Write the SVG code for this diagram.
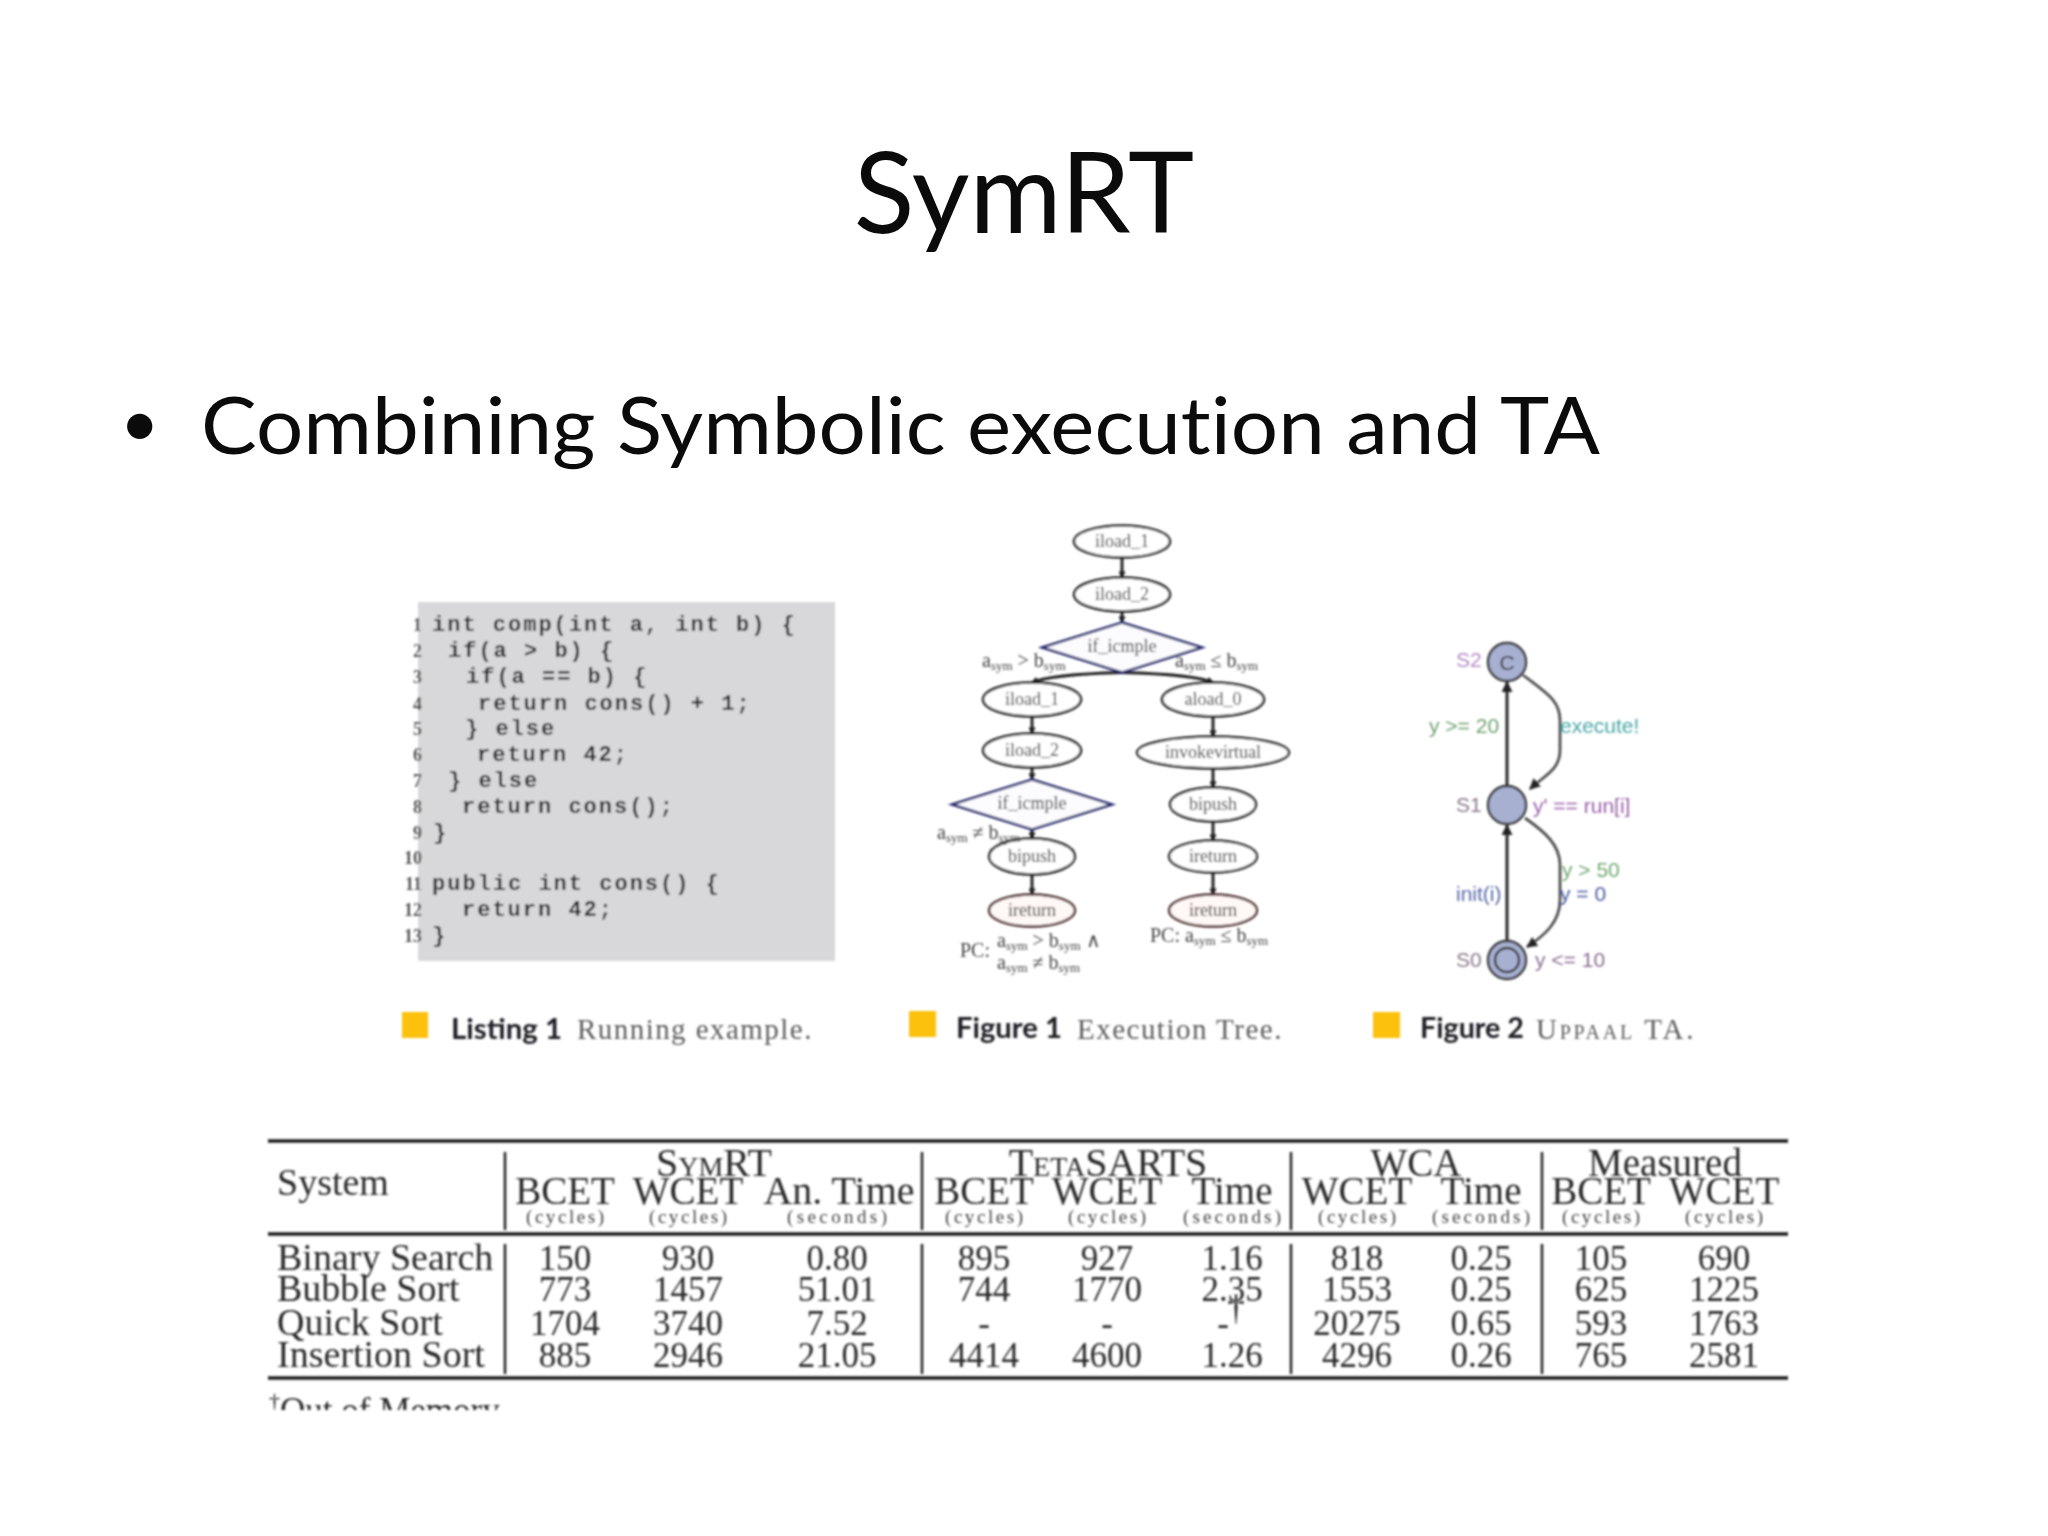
<svg xmlns="http://www.w3.org/2000/svg" width="2048" height="1536" viewBox="0 0 2048 1536">
<defs>
<style>
.head{font-family:Lato,"Open Sans",sans-serif;fill:#0b0b0b;font-variant-ligatures:none}
.code{font-family:"Liberation Mono",monospace;font-weight:bold;font-size:22px;letter-spacing:2px;fill:#2a2a2a;white-space:pre}
.num{font-family:"Liberation Serif",serif;font-size:18px;font-weight:bold;fill:#555;text-anchor:end}
.capb{font-family:Lato,"Open Sans",sans-serif;font-weight:bold;font-size:28px;fill:#1c1c24}
.capr{font-family:"Liberation Serif",serif;font-size:29px;fill:#5c5c5c;letter-spacing:.6px}
.sw{fill:#fcc10e}
.nt{font-family:"Liberation Serif",serif;font-size:18px;fill:#333;text-anchor:middle}
.lab{font-family:"Liberation Serif",serif;font-size:20px;fill:#444}
.sub{font-size:13px}
.el{fill:#fff;stroke:#222;stroke-width:2.5}
.red{fill:#fff8f6;stroke:#4a2626;stroke-width:2.5}
.dia{fill:#fcfcff;stroke:#26266e;stroke-width:2.5}
.edge{fill:none;stroke:#1a1a1a;stroke-width:2.8}
.soft{fill:none;stroke:#4f4f4f;stroke-width:2.8}
.loc{fill:#a8b0d2;stroke:#333;stroke-width:2.4}
.ta{font-family:"Liberation Sans",sans-serif;font-size:21px}
.t{font-family:"Liberation Serif",serif;font-size:35px;fill:#2c2c2c}
.r{font-size:38px}
.h{font-size:39px}
.g{font-size:40px}
.c{text-anchor:middle}
.u{font-family:"Liberation Serif",serif;font-size:19px;fill:#444;text-anchor:middle}
.sc{font-variant:small-caps}
.rule{stroke:#1c1c1c;stroke-width:3.4}
.vr{stroke:#1c1c1c;stroke-width:2.4}
</style>
<marker id="a" viewBox="0 0 8 8" refX="7" refY="4" markerWidth="7" markerHeight="7" markerUnits="userSpaceOnUse" orient="auto"><path d="M0 0L8 4L0 8z" fill="#1a1a1a"/></marker>
<marker id="b" viewBox="0 0 10 10" refX="9" refY="5" markerWidth="11" markerHeight="11" markerUnits="userSpaceOnUse" orient="auto"><path d="M0 0L10 5L0 10z" fill="#222"/></marker>
<filter id="blur" x="-5%" y="-5%" width="110%" height="110%"><feGaussianBlur stdDeviation="0.8"/></filter>
<clipPath id="foot"><rect x="260" y="1385" width="260" height="25"/></clipPath>
</defs>
<rect width="2048" height="1536" fill="#fff"/>

<text class="head" x="1024" y="233" font-size="112" text-anchor="middle">SymRT</text>
<text class="head" x="120" y="447" font-size="68" font-family="Liberation Sans">•</text>
<text class="head" x="201" y="454" font-size="80" textLength="1399" lengthAdjust="spacingAndGlyphs">Combining Symbolic execution and TA</text>

<g id="listing" filter="url(#blur)">
<rect x="418" y="602" width="417" height="359" fill="#d8d8da"/>
<text class="num" x="422" y="631">1</text><text class="num" x="422" y="657">2</text><text class="num" x="422" y="683">3</text><text class="num" x="422" y="710">4</text><text class="num" x="422" y="735">5</text><text class="num" x="422" y="761">6</text><text class="num" x="422" y="787">7</text><text class="num" x="422" y="813">8</text><text class="num" x="422" y="839">9</text><text class="num" x="422" y="864">10</text><text class="num" x="422" y="890">11</text><text class="num" x="422" y="916">12</text><text class="num" x="422" y="942">13</text>
<text class="code" x="432" y="631">int comp(int a, int b) {</text>
<text class="code" x="448" y="657">if(a &gt; b) {</text>
<text class="code" x="466" y="683">if(a == b) {</text>
<text class="code" x="478" y="710">return cons() + 1;</text>
<text class="code" x="465" y="735">} else</text>
<text class="code" x="477" y="761">return 42;</text>
<text class="code" x="448" y="787">} else</text>
<text class="code" x="462" y="813">return cons();</text>
<text class="code" x="433" y="839">}</text>
<text class="code" x="432" y="890">public int cons() {</text>
<text class="code" x="462" y="916">return 42;</text>
<text class="code" x="432" y="942">}</text>
<rect class="sw" x="402" y="1012" width="26" height="26"/>
<text class="capb" x="451" y="1039" textLength="111" lengthAdjust="spacingAndGlyphs">Listing 1</text>
<text class="capr" x="577" y="1039" textLength="235">Running example.</text>
</g>

<g filter="url(#blur)">
<g transform="translate(0 1.5)">
<g id="tree-edges">
<path class="edge" marker-end="url(#a)" d="M1122 556V576"/>
<path class="edge" marker-end="url(#a)" d="M1122 610V621"/>
<path class="edge" marker-end="url(#a)" d="M1122 671Q1050 673 1032 681"/>
<path class="edge" marker-end="url(#a)" d="M1122 671Q1195 673 1213 681"/>
<path class="edge" marker-end="url(#a)" d="M1032 715V732"/>
<path class="edge" marker-end="url(#a)" d="M1032 766V778"/>
<path class="edge" marker-end="url(#a)" d="M1032 828V837"/>
<path class="edge" marker-end="url(#a)" d="M1032 873V893"/>
<path class="edge" marker-end="url(#a)" d="M1213 715V735"/>
<path class="edge" marker-end="url(#a)" d="M1213 767V786"/>
<path class="edge" marker-end="url(#a)" d="M1213 820V839"/>
<path class="edge" marker-end="url(#a)" d="M1213 871V893"/>
</g>
<g id="t1"><ellipse class="el" cx="1122" cy="540" rx="48" ry="16"/><text class="nt" x="1122" y="545">iload_1</text></g>
<g id="t2"><ellipse class="el" cx="1122" cy="593" rx="48" ry="17"/><text class="nt" x="1122" y="598">iload_2</text></g>
<g id="t3"><path class="dia" d="M1122 621L1202 646L1122 671L1042 646z"/><text class="nt" x="1122" y="650">if_icmple</text></g>
<g id="t4"><ellipse class="el" cx="1032" cy="698" rx="49" ry="17"/><text class="nt" x="1032" y="703">iload_1</text></g>
<g id="t5"><ellipse class="el" cx="1032" cy="749" rx="49" ry="17"/><text class="nt" x="1032" y="754">iload_2</text></g>
<g id="t6"><path class="dia" d="M1032 778L1112 803L1032 828L952 803z"/><text class="nt" x="1032" y="807">if_icmple</text></g>
<g id="t7"><ellipse class="el" cx="1032" cy="855" rx="43" ry="18"/><text class="nt" x="1032" y="860">bipush</text></g>
<g id="t8"><ellipse class="red" cx="1032" cy="909" rx="43" ry="16"/><text class="nt" x="1032" y="914">ireturn</text></g>
<g id="t9"><ellipse class="el" cx="1213" cy="698" rx="51" ry="17"/><text class="nt" x="1213" y="703">aload_0</text></g>
<g id="t10"><ellipse class="el" cx="1213" cy="751" rx="76" ry="16"/><text class="nt" x="1213" y="756">invokevirtual</text></g>
<g id="t11"><ellipse class="el" cx="1213" cy="803" rx="43" ry="17"/><text class="nt" x="1213" y="808">bipush</text></g>
<g id="t12"><ellipse class="el" cx="1213" cy="855" rx="44" ry="16"/><text class="nt" x="1213" y="860">ireturn</text></g>
<g id="t13"><ellipse class="red" cx="1213" cy="909" rx="44" ry="16"/><text class="nt" x="1213" y="914">ireturn</text></g>
<g id="tree-labels">
<text class="lab" x="982" y="665">a<tspan class="sub" dy="3">sym</tspan><tspan dy="-3"> &gt; b</tspan><tspan class="sub" dy="3">sym</tspan></text>
<text class="lab" x="1175" y="665">a<tspan class="sub" dy="3">sym</tspan><tspan dy="-3"> ≤ b</tspan><tspan class="sub" dy="3">sym</tspan></text>
<text class="lab" x="937" y="837">a<tspan class="sub" dy="3">sym</tspan><tspan dy="-3"> ≠ b</tspan><tspan class="sub" dy="3">sym</tspan></text>
<text class="lab" x="960" y="955">PC:</text>
<text class="lab" x="997" y="945">a<tspan class="sub" dy="3">sym</tspan><tspan dy="-3"> &gt; b</tspan><tspan class="sub" dy="3">sym</tspan><tspan dy="-3"> ∧</tspan></text>
<text class="lab" x="997" y="967">a<tspan class="sub" dy="3">sym</tspan><tspan dy="-3"> ≠ b</tspan><tspan class="sub" dy="3">sym</tspan></text>
<text class="lab" x="1150" y="940">PC: a<tspan class="sub" dy="3">sym</tspan><tspan dy="-3"> ≤ b</tspan><tspan class="sub" dy="3">sym</tspan></text>
</g>
</g>
<rect class="sw" x="909" y="1011" width="27" height="26"/>
<text class="capb" x="956" y="1038" textLength="106" lengthAdjust="spacingAndGlyphs">Figure 1</text>
<text class="capr" x="1077" y="1039" textLength="205">Execution Tree.</text>
</g>

<g filter="url(#blur)">
<g id="ta-edges">
<path class="edge" marker-end="url(#b)" d="M1507 786V682"/>
<path class="edge" marker-end="url(#b)" d="M1507 941V825"/>
<path class="soft" marker-end="url(#b)" d="M1523 675C1545 692 1560 700 1560 720V750C1560 770 1545 775 1530 789"/>
<path class="soft" marker-end="url(#b)" d="M1525 818C1545 832 1560 845 1560 865V900C1560 922 1545 935 1527 947"/>
</g>
<g id="s2"><circle class="loc" cx="1507" cy="662" r="19"/><text x="1507" y="670" class="ta" text-anchor="middle" fill="#333">C</text></g>
<g id="s1"><circle class="loc" cx="1507" cy="805" r="19"/></g>
<g id="s0"><circle class="loc" cx="1507" cy="960" r="19"/><circle class="loc" cx="1507" cy="960" r="12"/></g>
<g id="ta-labels">
<text class="ta" x="1456" y="667" fill="#b48cc4">S2</text>
<text class="ta" x="1456" y="812" fill="#8a7a8a">S1</text>
<text class="ta" x="1456" y="967" fill="#8a7a8a">S0</text>
<text class="ta" x="1429" y="733" fill="#6f9f6f">y &gt;= 20</text>
<text class="ta" x="1560" y="733" fill="#4aa5a5">execute!</text>
<text class="ta" x="1533" y="813" fill="#9a60a8">y' == run[i]</text>
<text class="ta" x="1562" y="877" fill="#6fa86f">y &gt; 50</text>
<text class="ta" x="1560" y="901" fill="#4a5aa0">y = 0</text>
<text class="ta" x="1456" y="901" fill="#5a6aa8">init(i)</text>
<text class="ta" x="1535" y="967" fill="#8a6f90">y &lt;= 10</text>
</g>
<rect class="sw" x="1373" y="1012" width="27" height="26"/>
<text class="capb" x="1420" y="1038" textLength="104" lengthAdjust="spacingAndGlyphs">Figure 2</text>
<text class="capr sc" x="1536" y="1039" textLength="158">Uppaal TA.</text>
</g>

<g id="table" filter="url(#blur)">
<path class="rule" d="M268 1141H1788M268 1234H1788M268 1378H1788"/>
<path class="vr" d="M505 1152V1230M922 1152V1230M1291 1152V1230M1542 1152V1230M505 1244V1374M922 1244V1374M1291 1244V1374M1542 1244V1374"/>
<text class="t r" x="277" y="1195">System</text>
<text class="t c sc g" x="714" y="1176">SymRT</text>
<text class="t c sc g" x="1108" y="1176">TetaSARTS</text>
<text class="t c h" x="1416" y="1176">WCA</text>
<text class="t c h" x="1665" y="1176">Measured</text>
<text class="t c h" x="565" y="1204">BCET</text><text class="t c h" x="688" y="1204">WCET</text><text class="t c g" x="839" y="1204">An. Time</text>
<text class="t c h" x="984" y="1204">BCET</text><text class="t c h" x="1107" y="1204">WCET</text><text class="t c h" x="1232" y="1204">Time</text>
<text class="t c h" x="1357" y="1204">WCET</text><text class="t c h" x="1481" y="1204">Time</text>
<text class="t c h" x="1601" y="1204">BCET</text><text class="t c h" x="1724" y="1204">WCET</text>
<text class="u" x="565" y="1223" textLength="78">(cycles)</text><text class="u" x="688" y="1223" textLength="78">(cycles)</text><text class="u" x="837" y="1223" textLength="100">(seconds)</text>
<text class="u" x="984" y="1223" textLength="78">(cycles)</text><text class="u" x="1107" y="1223" textLength="78">(cycles)</text><text class="u" x="1232" y="1223" textLength="98">(seconds)</text>
<text class="u" x="1357" y="1223" textLength="78">(cycles)</text><text class="u" x="1481" y="1223" textLength="98">(seconds)</text>
<text class="u" x="1601" y="1223" textLength="78">(cycles)</text><text class="u" x="1724" y="1223" textLength="78">(cycles)</text>

<text class="t r" x="277" y="1270">Binary Search</text>
<text class="t c" x="565" y="1270">150</text><text class="t c" x="688" y="1270">930</text><text class="t c" x="837" y="1270">0.80</text><text class="t c" x="984" y="1270">895</text><text class="t c" x="1107" y="1270">927</text><text class="t c" x="1232" y="1270">1.16</text><text class="t c" x="1357" y="1270">818</text><text class="t c" x="1481" y="1270">0.25</text><text class="t c" x="1601" y="1270">105</text><text class="t c" x="1724" y="1270">690</text>
<text class="t r" x="277" y="1301">Bubble Sort</text>
<text class="t c" x="565" y="1301">773</text><text class="t c" x="688" y="1301">1457</text><text class="t c" x="837" y="1301">51.01</text><text class="t c" x="984" y="1301">744</text><text class="t c" x="1107" y="1301">1770</text><text class="t c" x="1232" y="1301">2.35</text><text class="t c" x="1357" y="1301">1553</text><text class="t c" x="1481" y="1301">0.25</text><text class="t c" x="1601" y="1301">625</text><text class="t c" x="1724" y="1301">1225</text>
<text class="t r" x="277" y="1335">Quick Sort</text>
<text class="t c" x="565" y="1335">1704</text><text class="t c" x="688" y="1335">3740</text><text class="t c" x="837" y="1335">7.52</text><text class="t c" x="984" y="1335">-</text><text class="t c" x="1107" y="1335">-</text><text class="t c" x="1223" y="1335">-</text><text class="t c" x="1236" y="1320" font-size="26">†</text><text class="t c" x="1357" y="1335">20275</text><text class="t c" x="1481" y="1335">0.65</text><text class="t c" x="1601" y="1335">593</text><text class="t c" x="1724" y="1335">1763</text>
<text class="t r" x="277" y="1367">Insertion Sort</text>
<text class="t c" x="565" y="1367">885</text><text class="t c" x="688" y="1367">2946</text><text class="t c" x="837" y="1367">21.05</text><text class="t c" x="984" y="1367">4414</text><text class="t c" x="1107" y="1367">4600</text><text class="t c" x="1232" y="1367">1.26</text><text class="t c" x="1357" y="1367">4296</text><text class="t c" x="1481" y="1367">0.26</text><text class="t c" x="1601" y="1367">765</text><text class="t c" x="1724" y="1367">2581</text>
<g clip-path="url(#foot)"><text class="t" x="269" y="1422"><tspan font-size="22" dy="-14">†</tspan><tspan dy="14">Out of Memory</tspan></text></g>
</g>
</svg>
